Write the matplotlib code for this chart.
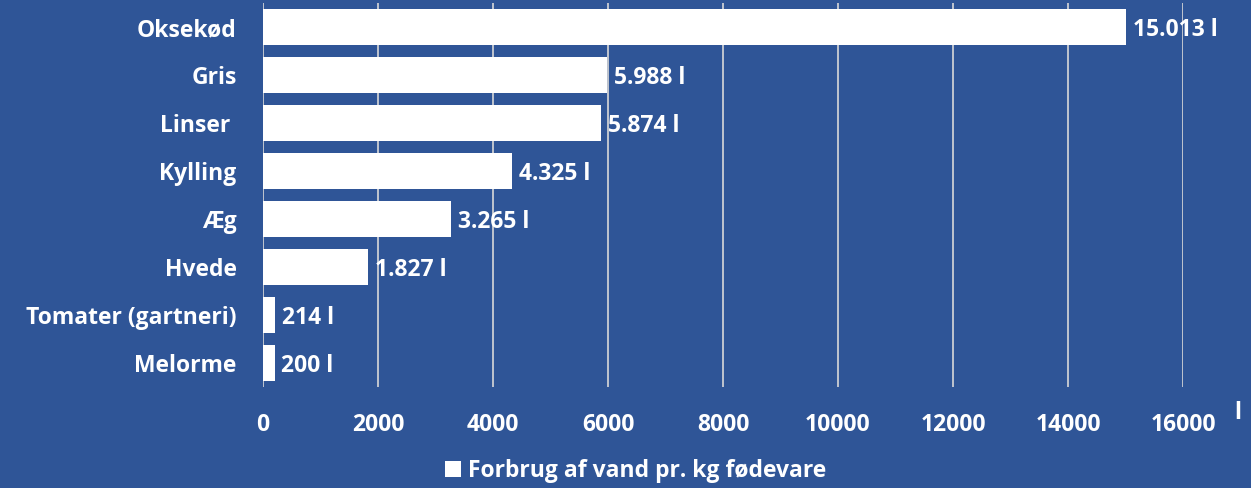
import numpy as np
import matplotlib.pyplot as plt
from matplotlib.patches import Patch

# data
foods = ['Oksekød', 'Gris', 'Linser ', 'Kylling', 'Æg', 'Hvede', 'Tomater (gartneri)', 'Melorme']
liters = [15013, 5988, 5874, 4325, 3265, 1827, 214, 200]
value_labels = ['15.013 l', '5.988 l', '5.874 l', '4.325 l', '3.265 l', '1.827 l', '214 l', '200 l']
xticks = [0, 2000, 4000, 6000, 8000, 10000, 12000, 14000, 16000]
legend_text = 'Forbrug af vand pr. kg fødevare'

bg = '#2F5597'
plt.rcParams['font.family'] = ['Open Sans', 'DejaVu Sans']
plt.rcParams['font.weight'] = 'bold'
fs = 16.5

fig = plt.figure(figsize=(12.51, 4.88), dpi=100)
fig.patch.set_facecolor(bg)
ax = fig.add_axes([263/1251, 1-387/488, 920/1251, 384/488])
ax.set_facecolor(bg)

y = np.arange(len(foods))
ax.barh(y, liters, height=0.73, color='white', zorder=3)
ax.set_xlim(0, 16000)
ax.set_ylim(7.5, -0.5)

ax.set_xticks(xticks)
ax.set_xticklabels([str(t) for t in xticks], color='white', fontsize=fs, fontweight='bold')
ax.set_yticks(y)
ax.set_yticklabels(foods, color='white', fontsize=fs, fontweight='bold')
ax.tick_params(axis='both', length=0)
ax.tick_params(axis='x', pad=19)
ax.tick_params(axis='y', pad=19)
ax.grid(axis='x', color='#D9D9D9', lw=1.2, zorder=0)
for s in ax.spines.values():
    s.set_visible(False)

for yi, v, lab in zip(y, liters, value_labels):
    ax.annotate(lab, (v, yi), xytext=(5, -2), textcoords='offset points',
                va='center', ha='left', color='white', fontsize=fs, fontweight='bold')

fig.text(1238/1251, 1-413/488, 'l', color='white', fontsize=fs, fontweight='bold',
         ha='center', va='center')

leg = fig.legend([Patch(facecolor='white')], [legend_text], loc='center',
                 bbox_to_anchor=(636/1251, 1-471/488), frameon=False,
                 handlelength=0.7, handleheight=0.7, handletextpad=0.3,
                 prop={'size': fs, 'weight': 'bold'})
for t in leg.get_texts():
    t.set_color('white')

fig.savefig('out.png', dpi=100, facecolor=bg)
